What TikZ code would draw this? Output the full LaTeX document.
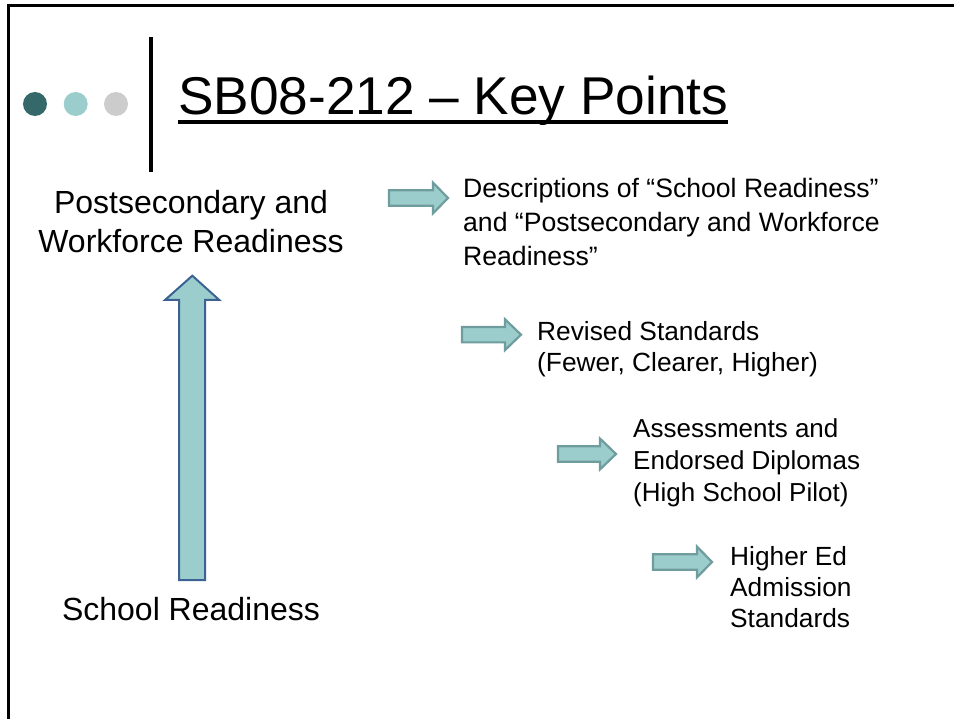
\documentclass[tikz,border=0pt]{standalone}
\usepackage{fontspec}
\setmainfont{Liberation Sans}
\definecolor{dotdark}{HTML}{356969}
\definecolor{teal}{HTML}{9CCDCD}
\definecolor{dotgrey}{HTML}{CCCCCC}
\definecolor{upedge}{HTML}{3C6293}
\definecolor{redge}{HTML}{6F9C9C}
\newcommand\rarr[5]{%
  \draw[rarrow] (#1,{#4-7.7}) -- (#2,{#4-7.7}) -- (#2,{#4-15.4}) -- (#3,#4)
    -- (#2,{#4+15.4}) -- (#2,{#4+7.7}) -- (#1,{#4+7.7}) -- cycle;
  \coordinate (#5) at (#3,#4);}
\begin{document}
\begin{tikzpicture}[x=1pt,y=-1pt,
  rarrow/.style={fill=teal,draw=redge,line width=2.2pt,line join=miter},
  uparrow/.style={fill=teal,draw=upedge,line width=2pt,line join=miter},
  bodytext/.style={inner sep=0pt,font=\fontsize{26.3}{31}\selectfont,align=left,anchor=north west},
  bigtext/.style={inner sep=0pt,font=\fontsize{32}{39}\selectfont,align=center}]
\useasboundingbox (0,0) rectangle (954,719);
% frame (top and left only)
\draw[line width=2.5pt] (8.3,719) -- (8.3,5.5) -- (954,5.5);
% dots
\fill[dotdark] (35,104) circle (12);
\fill[teal] (75.7,104) circle (12);
\fill[dotgrey] (116,104) circle (12);
% vertical bar
\draw[line width=4pt] (150.7,37) -- (150.7,172);
% title
\node[inner sep=0pt,anchor=base west,font=\fontsize{53.2}{60}\selectfont] (title) at (178,114.3) {SB08-212 – Key Points};
\draw[line width=3.6pt] ([yshift=-7.8pt]title.base west) -- ([yshift=-7.8pt]title.base east);
% left texts
\node[bigtext,anchor=north] (pwr) at (191,185.7) {\strut Postsecondary and\\Workforce Readiness};
\node[bigtext,anchor=base] (sr) at (191,620.7) {School Readiness};
% up arrow
\draw[uparrow] (192.3,275.7) -- (219.3,300) -- (205,300) -- (205,580) -- (179,580) -- (179,300) -- (165,300) -- cycle;
% right arrows
\rarr{389}{433}{448}{198}{a1}
\rarr{462}{505}{521}{334.7}{a2}
\rarr{558}{600}{616}{454}{a3}
\rarr{653}{697}{712}{562}{a4}
% right texts
\node[bodytext,font=\fontsize{26.6}{34}\selectfont] (t1) at (463,173.2) {\strut Descriptions of “School Readiness”\\and “Postsecondary and Workforce\\Readiness”};
\node[bodytext] (t2) at (537,318.3) {\strut Revised Standards\\(Fewer, Clearer, Higher)};
\node[bodytext,font=\fontsize{26}{32}\selectfont] (t3) at (633,414.6) {\strut Assessments and\\Endorsed Diplomas\\(High School Pilot)};
\node[bodytext] (t4) at (730,543.3) {\strut Higher Ed\\Admission\\Standards};
\end{tikzpicture}
\end{document}
